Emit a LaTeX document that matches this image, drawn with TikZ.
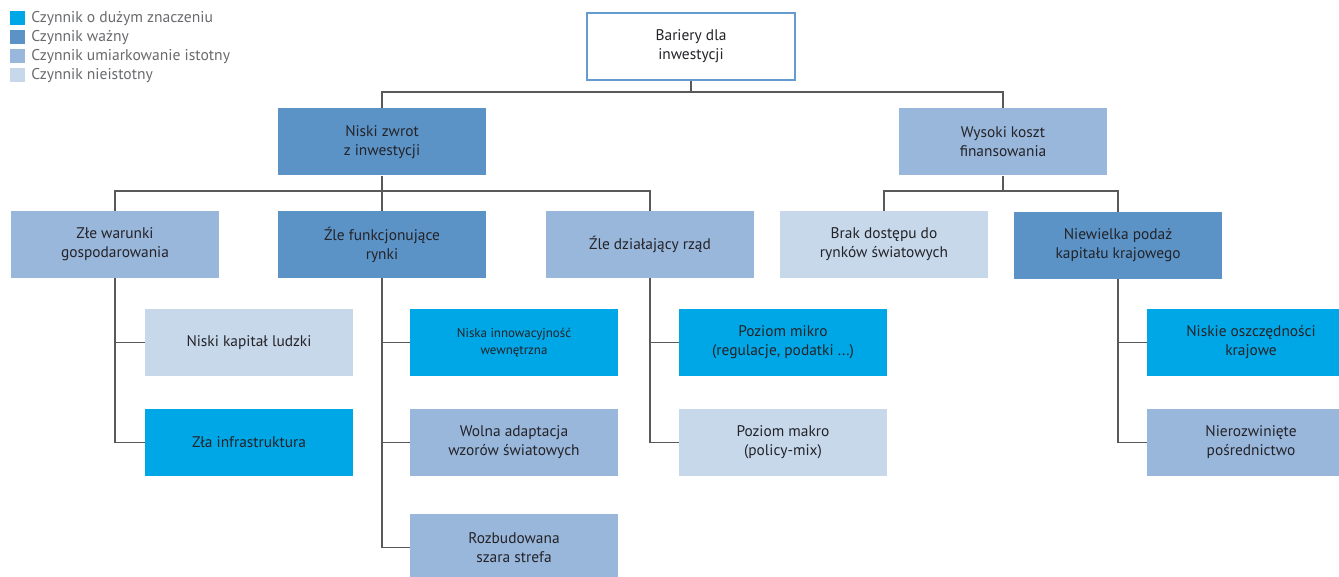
\documentclass[tikz,border=0pt]{standalone}
\usepackage{fontspec}
\setmainfont{PT Sans}
\usetikzlibrary{positioning}

\definecolor{hiblue}{RGB}{0,167,230}
\definecolor{impblue}{RGB}{91,147,199}
\definecolor{modblue}{RGB}{153,182,219}
\definecolor{lowblue}{RGB}{199,216,235}
\definecolor{frameblue}{RGB}{100,155,208}
\definecolor{linegray}{RGB}{88,89,91}
\definecolor{boxtext}{RGB}{35,35,40}
\definecolor{legtext}{RGB}{105,106,109}

\begin{document}
\begin{tikzpicture}[x=1pt,y=-1pt,
    box/.style={rectangle,minimum width=208pt,minimum height=67pt,inner sep=2pt,
        align=center,text=boxtext,font=\fontsize{15.4}{19}\selectfont},
    hibox/.style={box,fill=hiblue},
    impbox/.style={box,fill=impblue},
    modbox/.style={box,fill=modblue},
    lowbox/.style={box,fill=lowblue},
    legsq/.style={rectangle,minimum width=15pt,minimum height=14pt,inner sep=0pt},
    legtxt/.style={anchor=west,inner sep=0pt,text=legtext,font=\fontsize{15.6}{17}\selectfont},
    conn/.style={draw=linegray,line width=1.5pt}]
            \useasboundingbox (0,0) rectangle (1339,577);
            \clip (0,0) rectangle (1339,577);

            \node[legsq,fill=hiblue] (sq1) at (17.5,18.5) {};
            \node[legsq,fill=impblue] (sq2) at (17.5,37.5) {};
            \node[legsq,fill=modblue] (sq3) at (17.5,56.5) {};
            \node[legsq,fill=lowblue] (sq4) at (17.5,75.5) {};
            \node[legtxt,right=6pt of sq1] (lg1) {Czynnik o dużym znaczeniu};
            \node[legtxt,right=6pt of sq2] (lg2) {Czynnik ważny};
            \node[legtxt,right=6pt of sq3] (lg3) {Czynnik umiarkowanie istotny};
            \node[legtxt,right=6pt of sq4] (lg4) {Czynnik nieistotny};

            \node[box,draw=frameblue,line width=1.8pt,fill=white] (bariery) at (691,46.5) {Bariery dla\\inwestycji};

            \node[impbox] (zwrot) at (382,142) {Niski zwrot\\z inwestycji};
            \node[modbox] (koszt) at (1003,142) {Wysoki koszt\\finansowania};

            \node[modbox] (warunki) at (115,244.5) {Złe warunki\\gospodarowania};
            \node[impbox] (rynki) at (382,244.5) {Źle funkcjonujące\\rynki};
            \node[modbox] (rzad) at (650,244.5) {Źle działający rząd};
            \node[lowbox] (brak) at (884,244.5) {Brak dostępu do\\rynków światowych};
            \node[impbox] (podaz) at (1118,245.5) {Niewielka podaż\\kapitału krajowego};

            \node[lowbox] (kapital) at (249,342.5) {Niski kapitał ludzki};
            \node[hibox] (infra) at (249,442.5) {Zła infrastruktura};
            \node[hibox,font=\fontsize{12.9}{17}\selectfont] (innow) at (514,342.5) {Niska innowacyjność\\wewnętrzna};
            \node[modbox] (adapt) at (514,442.5) {Wolna adaptacja\\wzorów światowych};
            \node[modbox] (szara) at (514,547.5) {Rozbudowana\\szara strefa};
            \node[hibox] (mikro) at (783,342.5) {Poziom mikro\\(regulacje, podatki ...)};
            \node[lowbox] (makro) at (783,442.5) {Poziom makro\\(policy-mix)};
            \node[hibox] (oszcz) at (1251,342.5) {Niskie oszczędności\\krajowe};
            \node[modbox] (posr) at (1251,442.5) {Nierozwinięte\\pośrednictwo};

            \coordinate (busa) at (0,92);
            \coordinate (busb) at (0,191);

            \draw[conn] (bariery.south) -- (bariery.south |- busa);
            \draw[conn] (zwrot.north) -- (zwrot.north |- busa) -- (koszt.north |- busa) -- (koszt.north);
            \draw[conn] (zwrot.south) -- (zwrot.south |- busb);
            \draw[conn] (warunki.north) -- (warunki.north |- busb) -- (rzad.north |- busb) -- (rzad.north);
            \draw[conn] (rynki.north) -- (rynki.north |- busb);
            \draw[conn] (koszt.south) -- (koszt.south |- busb);
            \draw[conn] (brak.north) -- (brak.north |- busb) -- (podaz.north |- busb) -- (podaz.north);

            \draw[conn] (warunki.south) |- (kapital.west);
            \draw[conn] (warunki.south) |- (infra.west);
            \draw[conn] (rynki.south) |- (innow.west);
            \draw[conn] (rynki.south) |- (adapt.west);
            \draw[conn] (rynki.south) |- (szara.west);
            \draw[conn] (rzad.south) |- (mikro.west);
            \draw[conn] (rzad.south) |- (makro.west);
            \draw[conn] (podaz.south) |- (oszcz.west);
            \draw[conn] (podaz.south) |- (posr.west);
        \end{tikzpicture}
\end{document}
